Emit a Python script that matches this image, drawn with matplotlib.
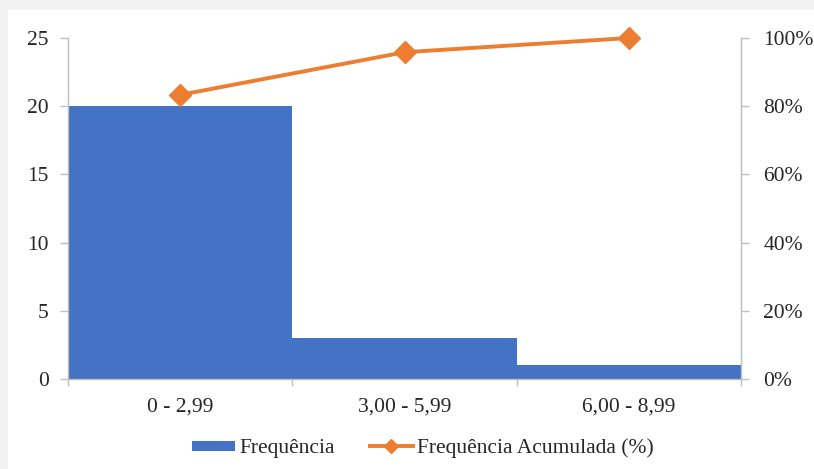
import matplotlib
matplotlib.use("Agg")
import matplotlib.pyplot as plt
from matplotlib.lines import Line2D
from matplotlib.patches import Rectangle

categories = ["0 - 2,99", "3,00 - 5,99", "6,00 - 8,99"]
frequencia = [20, 3, 1]
acumulada = [83.33, 95.83, 100.0]
left_ticks = [0, 5, 10, 15, 20, 25]
right_ticks = [0, 20, 40, 60, 80, 100]

blue = "#4472C4"
orange = "#ED7D31"
grey = "#BFBFBF"
txt = "#262626"

plt.rcParams["font.family"] = ["Liberation Serif", "DejaVu Serif"]
fs = 15.5

fig = plt.figure(figsize=(8.14, 4.69), dpi=100, facecolor="#F2F2F2")
fig.patches.append(Rectangle((8/814, 0), 1 - 8/814, 1 - 10/469, transform=fig.transFigure,
                             facecolor="white", edgecolor="none", zorder=-10))

ax = fig.add_axes([68/814, 1 - 379/469, (741 - 68)/814, (379 - 38)/469])
ax.set_facecolor("none")
x = list(range(len(categories)))
ax.bar(x, frequencia, width=1.0, color=blue, zorder=2)
ax.set_xlim(-0.5, len(categories) - 0.5)
ax.set_ylim(0, 25)
ax.set_yticks(left_ticks)
ax.set_xticks(x)
ax.set_xticklabels(categories)
ax.set_xticks([i - 0.5 for i in range(len(categories) + 1)], minor=True)
ax.tick_params(axis="x", which="major", length=0, pad=13, labelsize=fs, labelcolor=txt)
ax.tick_params(axis="x", which="minor", length=5, color=grey, width=1)
ax.tick_params(axis="y", length=6, color=grey, width=1, pad=8, labelsize=fs, labelcolor=txt)
for s in ["top"]:
    ax.spines[s].set_visible(False)
for s in ["left", "bottom", "right"]:
    ax.spines[s].set_color(grey)
    ax.spines[s].set_linewidth(1)

ax2 = ax.twinx()
ax2.plot(x, acumulada, color=orange, lw=2.8, marker="D", markersize=11, zorder=3, clip_on=False)
ax2.set_ylim(0, 100)
ax2.set_yticks(right_ticks)
ax2.set_yticklabels([f"{v}%" for v in right_ticks])
ax2.tick_params(axis="y", length=6, color=grey, width=1, pad=10, labelsize=fs, labelcolor=txt)
for s in ["top", "left", "bottom"]:
    ax2.spines[s].set_visible(False)
ax2.spines["right"].set_color(grey)

h1 = Line2D([], [], color=blue, lw=7.2, solid_capstyle="butt")
h2 = Line2D([], [], color=orange, lw=2.8, marker="D", markersize=7)
leg = fig.legend([h1, h2], ["Frequência", "Frequência Acumulada (%)"], loc="center",
                 bbox_to_anchor=(423/814, 1 - 448/469), ncol=2, frameon=False,
                 fontsize=fs, handlelength=2.0, handletextpad=0.2, columnspacing=1.6)
for t in leg.get_texts():
    t.set_color(txt)

fig.savefig("out.png", dpi=100, facecolor=fig.get_facecolor())
